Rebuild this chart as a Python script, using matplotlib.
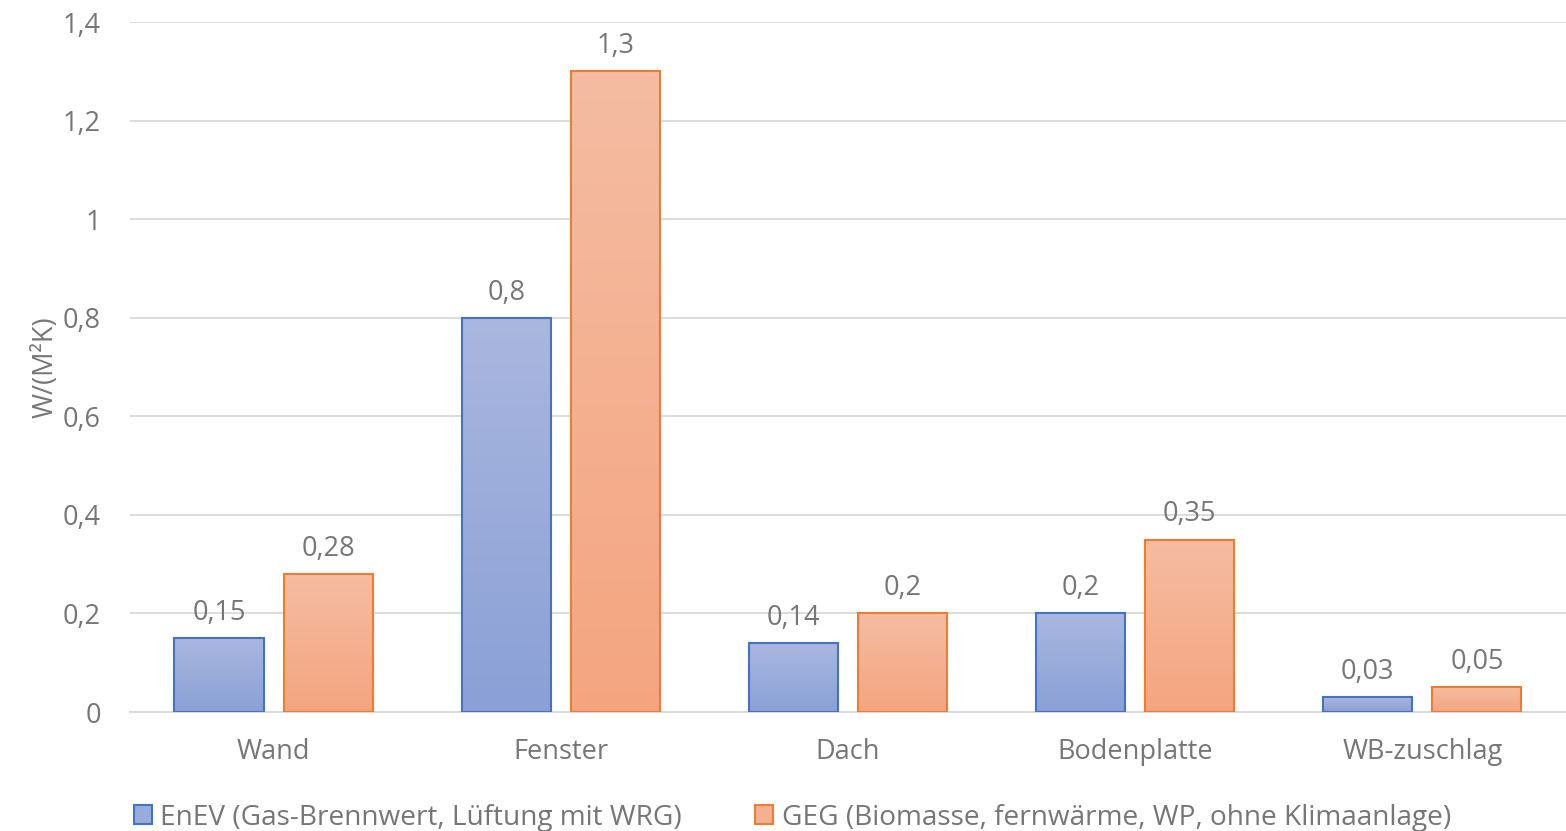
import numpy as np
import matplotlib

matplotlib.use("Agg")
import matplotlib.pyplot as plt  # noqa: E402
from matplotlib.colors import LinearSegmentedColormap  # noqa: E402
from matplotlib.patches import Patch  # noqa: E402

categories = ["Wand", "Fenster", "Dach", "Bodenplatte", "WB-zuschlag"]
enev = [0.15, 0.8, 0.14, 0.2, 0.03]
geg = [0.28, 1.3, 0.2, 0.35, 0.05]
labels_enev = ["0,15", "0,8", "0,14", "0,2", "0,03"]
labels_geg = ["0,28", "1,3", "0,2", "0,35", "0,05"]
series_names = [
    "EnEV (Gas-Brennwert, Lüftung mit WRG)",
    "GEG (Biomasse, fernwärme, WP, ohne Klimaanlage)",
]
yticks = [0, 0.2, 0.4, 0.6, 0.8, 1.0, 1.2, 1.4]
ytick_labels = ["0", "0,2", "0,4", "0,6", "0,8", "1", "1,2", "1,4"]

TEXT = "#767676"
GRID = "#d9d9d9"
FS = 19.5
plt.rcParams["font.family"] = ["Open Sans", "DejaVu Sans"]

blue_cmap = LinearSegmentedColormap.from_list("b", ["#8aa0d6", "#aab7df"])
orange_cmap = LinearSegmentedColormap.from_list("o", ["#f5a580", "#f4bca2"])


def gradient_bars(ax, xs, heights, width, cmap, edge):
    grad = np.linspace(0, 1, 256).reshape(-1, 1)
    bars = ax.bar(xs, heights, width=width, facecolor="none",
                  edgecolor=edge, linewidth=1.5, zorder=3)
    for b in bars:
        x0, y0 = b.get_x(), b.get_y()
        ax.imshow(grad, extent=[x0, x0 + b.get_width(), y0, y0 + b.get_height()],
                  origin="lower", aspect="auto", cmap=cmap, zorder=2)
    return bars


fig = plt.figure(figsize=(15.66, 8.31), dpi=100)
ax = fig.add_axes([0.083, 0.1432, 0.917, 0.8303])

x = np.arange(len(categories))
w = 0.31
off = 0.19
b1 = gradient_bars(ax, x - off, enev, w, blue_cmap, "#4472c4")
b2 = gradient_bars(ax, x + off, geg, w, orange_cmap, "#ed7d31")

for bars, labs in ((b1, labels_enev), (b2, labels_geg)):
    for b, lab in zip(bars, labs):
        ax.annotate(lab, (b.get_x() + b.get_width() / 2, b.get_height()),
                    xytext=(0, 8), textcoords="offset points",
                    ha="center", va="bottom", fontsize=FS, color=TEXT)

ax.set_xlim(-0.5, len(categories) - 0.5)
ax.set_ylim(0, 1.4)
ax.set_yticks(yticks)
ax.set_yticklabels(ytick_labels)
ax.set_xticks(x)
ax.set_xticklabels(categories)
ax.tick_params(axis="y", length=0, pad=21, labelsize=FS, labelcolor=TEXT)
ax.tick_params(axis="x", length=0, pad=19, labelsize=FS, labelcolor=TEXT)
ax.grid(axis="y", color=GRID, linewidth=1.3, zorder=0)
ax.set_axisbelow(True)
for s in ("top", "right", "left"):
    ax.spines[s].set_visible(False)
ax.spines["bottom"].set_color(GRID)
ax.spines["bottom"].set_linewidth(1.3)
ax.set_ylabel("W/(M²K)", fontsize=FS, color=TEXT, labelpad=2)

handles = [
    Patch(facecolor="#99abda", edgecolor="#4472c4", linewidth=1.5),
    Patch(facecolor="#f4b091", edgecolor="#ed7d31", linewidth=1.5),
]
fig.legend(handles, series_names, loc="lower center", ncol=2,
           bbox_to_anchor=(0.506, -0.031), frameon=False, fontsize=20.2,
           labelcolor=TEXT, handlelength=0.65, handleheight=0.65,
           handletextpad=0.3, columnspacing=2.6)

fig.savefig("out.png", dpi=100)
